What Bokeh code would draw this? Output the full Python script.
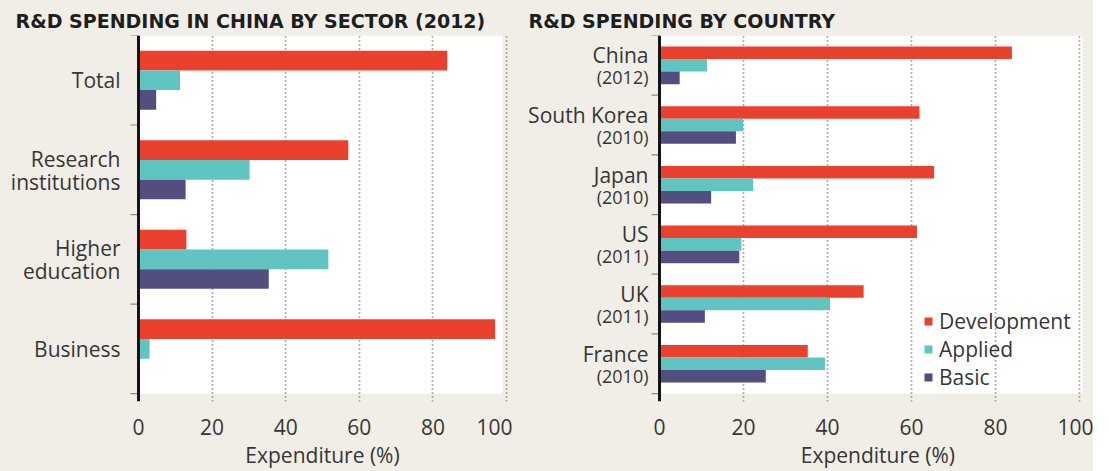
from bokeh.plotting import figure
from bokeh.models import (Range1d, FixedTicker, Legend, LegendItem, Title, LinearAxis, Span)
from bokeh.core.properties import value
from bokeh.layouts import row
from bokeh.embed import file_html
from bokeh.resources import INLINE

# ---------------- data ----------------
sectors = ["Total", "Research institutions", "Higher education", "Business"]
sector_lines = [["Total"], ["Research", "institutions"], ["Higher", "education"], ["Business"]]
sector_dev = [83.9, 57.0, 13.0, 96.9]
sector_app = [11.3, 30.2, 51.6, 3.0]
sector_bas = [4.8, 12.8, 35.4, 0.1]

countries = ["China", "South Korea", "Japan", "US", "UK", "France"]
years = ["(2012)", "(2010)", "(2010)", "(2011)", "(2011)", "(2010)"]
country_dev = [83.9, 61.9, 65.4, 61.3, 48.6, 35.3]
country_app = [11.3, 19.9, 22.3, 19.5, 40.6, 39.4]
country_bas = [4.8, 18.2, 12.3, 19.0, 10.8, 25.3]

x_ticks = [0, 20, 40, 60, 80, 100]
series_names = ["Development", "Applied", "Basic"]
axis_title = "Expenditure (%)"

# ---------------- style ----------------
BG = "#f1eee7"
RED = "#e9412e"
TEAL = "#60c5c0"
NAVY = "#524f80"
TXT = "#363636"
FONT = "Open Sans"
TITLE_FONT = "DejaVu Sans"
H = 471
FRAME_TOP = 35
FRAME_BOTTOM = 405


def make_panel(title, width, n, zero_px, px_per_unit, white_end, label_mid, title_pad):
    frame_h = FRAME_BOTTOM - FRAME_TOP
    unit_h = (frame_h - 8.0) / n
    y_pad = 8.0 / unit_h
    x0 = -zero_px / px_per_unit
    x1 = (width - zero_px) / px_per_unit
    p = figure(width=width, height=H, x_range=Range1d(x0, x1),
               y_range=Range1d(-y_pad, n), output_backend="svg",
               toolbar_location=None, min_border_left=0, min_border_right=0,
               min_border_top=FRAME_TOP, min_border_bottom=H - FRAME_BOTTOM,
               background_fill_color=BG, border_fill_color=BG, outline_line_color=None)
    p.yaxis.visible = False

    # white plotting panel
    p.quad(left=[0], right=[white_end], bottom=[0], top=[n], fill_color="white",
           line_color=None, level="image")

    # boundary ticks on the value axis
    tick_len = 8.0 / px_per_unit
    bnds = list(range(n + 1))
    p.segment(x0=[-tick_len] * len(bnds), x1=[0] * len(bnds), y0=bnds, y1=bnds,
              line_color="#8a8a8a", line_width=1.2)
    p.add_layout(Span(location=0, dimension="height", line_color="#151515", line_width=3))

    # x axis
    xa = p.xaxis[0]
    xa.ticker = FixedTicker(ticks=x_ticks)
    xa.axis_line_color = None
    xa.major_tick_line_color = None
    xa.minor_tick_line_color = None
    xa.major_label_text_font = FONT
    xa.major_label_text_font_size = "21px"
    xa.major_label_text_color = TXT
    xa.major_label_standoff = 11

    xb = LinearAxis(ticker=FixedTicker(ticks=[label_mid]),
                    major_label_overrides={label_mid: axis_title},
                    axis_line_color=None, major_tick_line_color=None,
                    minor_tick_line_color=None, major_label_standoff=-3,
                    major_label_text_font=FONT, major_label_text_font_size="21px",
                    major_label_text_color=TXT)
    p.add_layout(xb, "below")

    # grid
    p.ygrid.visible = False
    p.xgrid.ticker = FixedTicker(ticks=x_ticks[1:])
    p.xgrid.grid_line_color = "#5a5a5a"
    p.xgrid.grid_line_dash = "1 3"
    p.xgrid.grid_line_width = 1.6

    t = Title(text=title, align="left", text_font=TITLE_FONT, text_font_size="19px",
              text_font_style="bold", text_color="#1e1e1e", standoff=8,
              padding=dict(left=title_pad, right=0, top=0, bottom=0))
    p.add_layout(t, "above")
    centers = [n - 1 - i + 0.5 for i in range(n)]
    return p, centers, unit_h


def bars(p, centers, dev, app, bas, bar_h):
    rd = p.hbar(y=[c + bar_h for c in centers], right=dev, left=0, height=bar_h,
                fill_color=RED, line_color=None)
    ra = p.hbar(y=centers, right=app, left=0, height=bar_h,
                fill_color=TEAL, line_color=None)
    rb = p.hbar(y=[c - bar_h for c in centers], right=bas, left=0, height=bar_h,
                fill_color=NAVY, line_color=None)
    return rd, ra, rb


# ---------- left panel ----------
p1, c1, uh1 = make_panel("R&D SPENDING IN CHINA BY SECTOR (2012)", 512, len(sectors),
                         138, 3.68, 98.9, 50, 15)
bars(p1, c1, sector_dev, sector_app, sector_bas, 0.22)
ly, lt = [], []
for c, lines in zip(c1, sector_lines):
    if len(lines) == 1:
        ly.append(c); lt.append(lines[0])
    else:
        ly += [c + 11 / uh1, c - 12 / uh1]; lt += lines
p1.text(x=[0] * len(ly), y=ly, text=lt, x_offset=-18, text_align="right",
        text_baseline="middle", text_font=value(FONT), text_font_size=value("21px"),
        text_color=TXT)

# ---------- right panel ----------
p2, c2, uh2 = make_panel("R&D SPENDING BY COUNTRY", 581, len(countries),
                         147, 4.2, 100.7, 52, 16)
rends = bars(p2, c2, country_dev, country_app, country_bas, 0.21)
p2.text(x=[0] * len(c2), y=[c + 10 / uh2 for c in c2], text=countries, x_offset=-11,
        text_align="right", text_baseline="middle", text_font=value(FONT),
        text_font_size=value("21px"), text_color=TXT)
p2.text(x=[0] * len(c2), y=[c - 12 / uh2 for c in c2], text=years, x_offset=-11,
        text_align="right", text_baseline="middle", text_font=value(FONT),
        text_font_size=value("18px"), text_color=TXT)

legend = Legend(items=[LegendItem(label=s, renderers=[r]) for s, r in zip(series_names, rends)],
                location=(411, 10), glyph_width=10, glyph_height=10, label_height=26,
                label_standoff=6, spacing=-2, padding=0, margin=0,
                background_fill_alpha=0, border_line_color=None,
                label_text_font=FONT, label_text_font_size="21px",
                label_text_line_height=1.0, label_text_color=TXT)
p2.add_layout(legend, "center")

layout = row(p1, p2, styles={"background-color": BG})
open("out.html", "w").write(file_html(layout, INLINE))
